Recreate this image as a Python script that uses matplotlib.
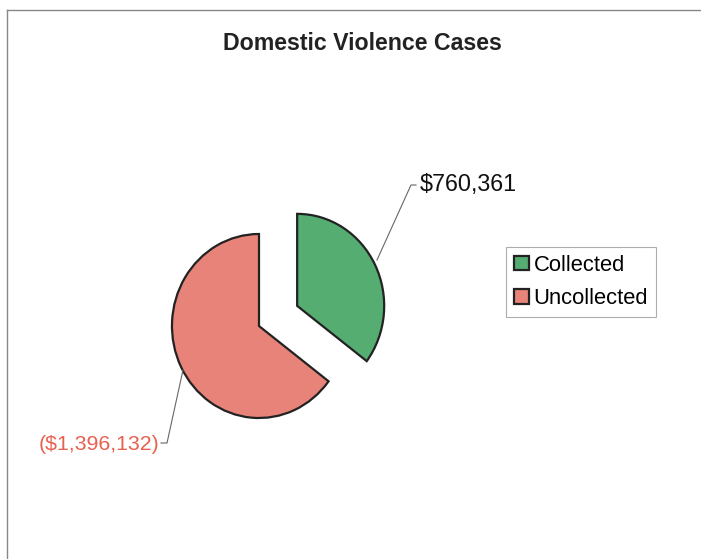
import matplotlib
matplotlib.use("Agg")
import matplotlib.pyplot as plt
from matplotlib.lines import Line2D

categories = ["Collected", "Uncollected"]
values = [760361, 1396132]
labels = ["$760,361", "($1,396,132)"]
colors = ["#55AD72", "#E8837A"]
label_colors = ["#111111", "#E8604F"]
title = "Domestic Violence Cases"

W, H = 701, 559
SX = 0.946  # horizontal squash of the reference scan

plt.rcParams['font.family'] = ['Liberation Sans', 'DejaVu Sans']
fig = plt.figure(figsize=(W / 100, H / 100), dpi=100)
ax = fig.add_axes([0, 0, 1, 1])

def d(px, py):
    return px / SX, H - py

cx, cy = d(259, 326)
r = 92
wedges, _ = ax.pie(values, startangle=90, counterclock=False, colors=colors,
                   center=(cx, cy), radius=r, explode=[0.49 * r, 0.0],
                   wedgeprops=dict(edgecolor="#222222", linewidth=1.6))
ax.set_aspect('auto')
ax.set_xlim(0, W / SX)
ax.set_ylim(0, H)
ax.axis('off')

# leader lines
for pts in [[(377, 260), (411, 185), (416, 185)],
            [(183, 370), (167, 443), (161, 443)]]:
    xs, ys = zip(*[d(*p) for p in pts])
    ax.plot(xs, ys, color="#666666", lw=0.8)

x, y = d(420, 184)
ax.text(x, y, labels[0], color=label_colors[0], fontsize=16.8, ha='left', va='center')
x, y = d(159, 445)
ax.text(x, y, labels[1], color=label_colors[1], fontsize=15.3, ha='right', va='center')

fig.text(362 / W, 1 - 43 / H, title, fontsize=16.7, fontweight='bold',
         ha='center', va='center', color="#222222")

leg = ax.legend(wedges, categories, loc='upper left',
                bbox_to_anchor=(506 / W, 1 - 247 / H), bbox_transform=fig.transFigure,
                borderaxespad=0, fancybox=False, frameon=True, fontsize=15.8,
                handlelength=0.68, handleheight=0.65, handletextpad=0.23,
                labelspacing=0.58, borderpad=0.35)
leg.get_frame().set_edgecolor("#999999")
leg.get_frame().set_linewidth(0.8)

# outer chart frame
fig.add_artist(Line2D([7 / W, 1], [1 - 10 / H, 1 - 10 / H], transform=fig.transFigure,
                      color="#888888", lw=1))
fig.add_artist(Line2D([7 / W, 7 / W], [0, 1 - 10 / H], transform=fig.transFigure,
                      color="#888888", lw=1))

fig.savefig("out.png", dpi=100, facecolor="white")
